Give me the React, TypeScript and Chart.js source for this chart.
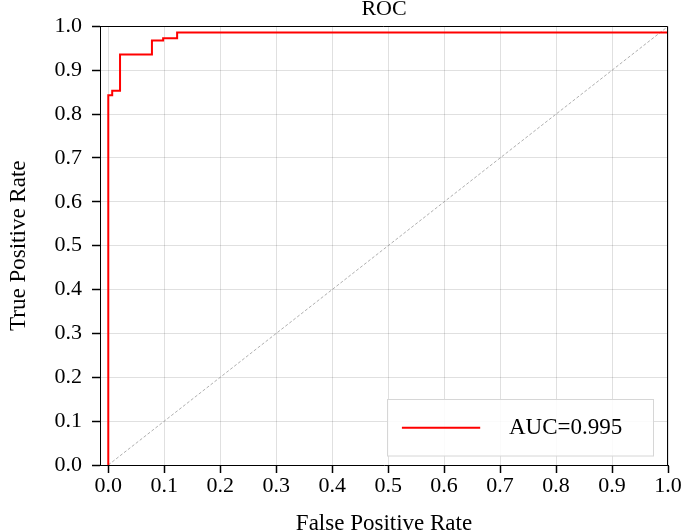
import React, { useEffect, useRef } from 'react';
import { Chart, registerables } from 'chart.js';

Chart.register(...registerables);

// ROC curve corners (false positive rate, true positive rate)
const fpr = [0, 0, 0.007, 0.007, 0.021, 0.021, 0.078, 0.078, 0.098, 0.098, 0.123, 0.123, 1, 1];
const tpr = [0, 0.843, 0.843, 0.853, 0.853, 0.936, 0.936, 0.968, 0.968, 0.973, 0.973, 0.986, 0.986, 1];

// chance diagonal
const diagX = [0, 1];
const diagY = [0, 1];

const tickValues = [0, 0.1, 0.2, 0.3, 0.4, 0.5, 0.6, 0.7, 0.8, 0.9, 1.0];
const xTickLabels = ['0.0', '0.1', '0.2', '0.3', '0.4', '0.5', '0.6', '0.7', '0.8', '0.9', '1.0'];
const yTickLabels = ['0.0', '0.1', '0.2', '0.3', '0.4', '0.5', '0.6', '0.7', '0.8', '0.9', '1.0'];

const chartTitle = 'ROC';
const xTitle = 'False Positive Rate';
const yTitle = 'True Positive Rate';
const aucLabel = 'AUC=0.995';

const xMin = -0.0148;
const xMax = 1;
const yMin = 0;
const yMax = 1;

const FONT = "'Liberation Serif', 'Times New Roman', serif";

const frameAndLegend = {
  id: 'frameAndLegend',
  afterDatasetsDraw(chart: any) {
    const { ctx, chartArea: a } = chart;
    ctx.save();
    // top and right spines
    ctx.strokeStyle = '#000';
    ctx.lineWidth = 1;
    const top = Math.round(a.top) + 0.5;
    const right = Math.round(a.right) - 0.5;
    ctx.beginPath();
    ctx.moveTo(a.left, top);
    ctx.lineTo(right, top);
    ctx.lineTo(right, a.bottom);
    ctx.stroke();

    // legend box
    const ds = chart.data.datasets[0];
    const bx = Math.round(a.right - 280.7) + 0.5;
    const by = Math.round(a.bottom - 66) + 0.5;
    const bw = 266;
    const bh = 56.5;
    ctx.fillStyle = 'rgba(255,255,255,0.85)';
    ctx.fillRect(bx, by, bw, bh);
    ctx.strokeStyle = '#d6d6d6';
    ctx.lineWidth = 1;
    ctx.strokeRect(bx, by, bw, bh);
    const ly = by + 28.3;
    ctx.strokeStyle = ds.borderColor;
    ctx.lineWidth = 2;
    ctx.beginPath();
    ctx.moveTo(bx + 14.4, ly);
    ctx.lineTo(bx + 92.7, ly);
    ctx.stroke();
    ctx.fillStyle = '#000';
    ctx.font = `23px ${FONT}`;
    ctx.textBaseline = 'middle';
    ctx.textAlign = 'left';
    ctx.fillText(ds.label, bx + 121.5, ly);
    ctx.restore();
  },
};

export default function App() {
  const ref = useRef<HTMLCanvasElement | null>(null);

  useEffect(() => {
    const canvas = ref.current;
    if (!canvas) return;
    const chart = new Chart(canvas, {
      type: 'line',
      data: {
        datasets: [
          {
            label: aucLabel,
            data: fpr.map((x, i) => ({ x, y: tpr[i] })),
            borderColor: '#ff0000',
            borderWidth: 2,
            pointRadius: 0,
            tension: 0,
            fill: false,
          },
          {
            label: 'chance',
            data: diagX.map((x, i) => ({ x, y: diagY[i] })),
            borderColor: '#9a9a9a',
            borderWidth: 0.8,
            borderDash: [3, 2],
            pointRadius: 0,
            tension: 0,
            fill: false,
          },
        ],
      },
      options: {
        animation: false,
        responsive: false,
        maintainAspectRatio: false,
        devicePixelRatio: 1,
        layout: { padding: { left: 0, right: 17, top: 0, bottom: 0 } },
        plugins: {
          legend: { display: false },
          tooltip: { enabled: false },
          title: {
            display: true,
            text: chartTitle,
            fullSize: false,
            color: '#000',
            font: { family: FONT, size: 22, weight: 'normal' },
            padding: { top: -4, bottom: 4 },
          },
        },
        scales: {
          x: {
            type: 'linear',
            min: xMin,
            max: xMax,
            afterBuildTicks: (s: any) => {
              s.ticks = tickValues.map((v) => ({ value: v }));
            },
            afterFit: (s: any) => {
              s.height = 67;
              s.paddingLeft = 0;
              s.paddingRight = 0;
            },
            ticks: {
              autoSkip: false,
              maxRotation: 0,
              color: '#000',
              padding: 0,
              font: { family: FONT, size: 22 },
              callback: (_v: any, i: number) => xTickLabels[i],
            },
            grid: {
              color: 'rgba(0,0,0,0.12)',
              lineWidth: 1,
              tickLength: 8,
              tickColor: '#000',
              tickWidth: 1.5,
            },
            border: { display: true, color: '#000', width: 1 },
            title: {
              display: true,
              text: xTitle,
              color: '#000',
              font: { family: FONT, size: 23 },
              padding: { top: 0, bottom: -6 },
            },
          },
          y: {
            type: 'linear',
            min: yMin,
            max: yMax,
            afterBuildTicks: (s: any) => {
              s.ticks = tickValues.map((v) => ({ value: v }));
            },
            afterFit: (s: any) => {
              s.width = 100;
              s.paddingTop = 0;
              s.paddingBottom = 0;
            },
            ticks: {
              autoSkip: false,
              color: '#000',
              padding: 10,
              font: { family: FONT, size: 22 },
              callback: (_v: any, i: number) => yTickLabels[i],
            },
            grid: {
              color: 'rgba(0,0,0,0.12)',
              lineWidth: 1,
              tickLength: 8,
              tickColor: '#000',
              tickWidth: 1.5,
            },
            border: { display: true, color: '#000', width: 1 },
            title: {
              display: true,
              text: yTitle,
              color: '#000',
              font: { family: FONT, size: 23 },
              padding: { top: 5.2, bottom: 0 },
            },
          },
        },
      },
      plugins: [frameAndLegend],
    });
    return () => chart.destroy();
  }, []);

  return (
    <div style={{ position: 'absolute', left: 0, top: 0, width: 685, height: 532, background: '#fff' }}>
      <canvas ref={ref} width={685} height={532} style={{ display: 'block', width: 685, height: 532 }} />
    </div>
  );
}
